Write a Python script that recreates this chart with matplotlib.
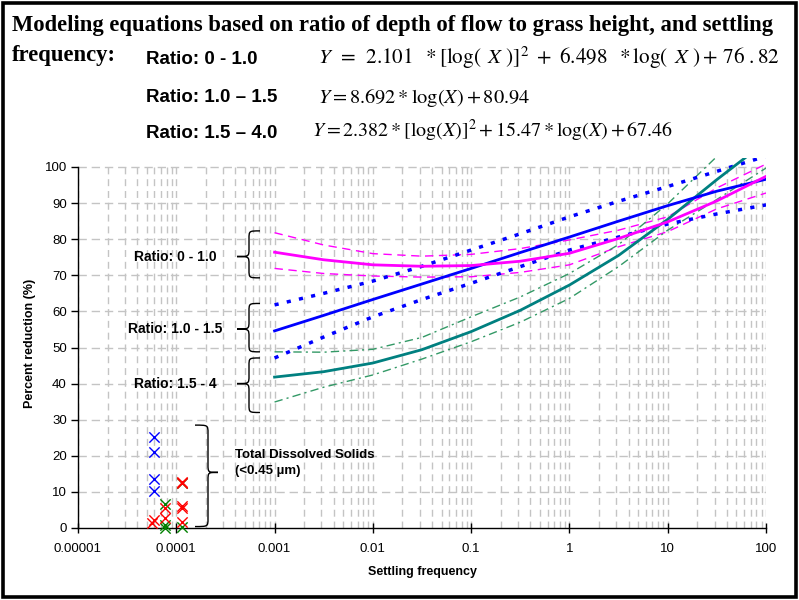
import numpy as np
import matplotlib
matplotlib.use("Agg")
import matplotlib.pyplot as plt
from matplotlib.path import Path
from matplotlib.patches import PathPatch, Rectangle
import matplotlib.transforms as mtransforms
from matplotlib.ticker import FixedLocator, FixedFormatter, NullFormatter

plt.rcParams['font.family'] = ['Liberation Sans', 'DejaVu Sans']
plt.rcParams['mathtext.fontset'] = 'stix'

# ---------------- data ----------------
freq = [0.001, 0.00316, 0.01, 0.0316, 0.1, 0.316, 1, 3.16, 10, 31.6, 100]

r1_fit   = [76.4, 74.3, 72.9, 72.5, 72.7, 73.9, 76.1, 80.2, 84.8, 90.6, 97.4]
r1_upper = [81.8, 78.4, 76.0, 75.3, 75.8, 77.4, 79.8, 82.5, 86.2, 94.2, 100.8]
r1_lower = [71.9, 70.5, 69.8, 69.5, 69.6, 70.8, 72.9, 77.9, 82.1, 88.4, 92.8]

r2_fit   = [54.6, 58.9, 63.3, 67.6, 71.9, 76.3, 80.6, 85.0, 89.3, 93.3, 96.6]
r2_upper = [61.8, 65.0, 68.4, 72.5, 77.0, 81.5, 86.2, 90.5, 94.6, 98.8, 103.0]
r2_lower = [47.1, 52.9, 58.5, 63.3, 67.8, 72.4, 77.0, 80.6, 84.2, 87.0, 89.5]

r3_fit   = [41.8, 43.3, 45.7, 49.4, 54.4, 60.3, 67.3, 75.5, 85.5, 96.5, 107.0]
r3_upper = [48.8, 48.7, 49.5, 52.8, 58.5, 64.0, 70.5, 78.5, 89.8, 102.9, 113.0]
r3_lower = [34.9, 39.0, 42.4, 46.8, 51.6, 57.0, 63.6, 72.4, 82.5, 91.0, 99.7]

tds_blue_x = [5.9e-5, 5.9e-5, 5.9e-5, 5.9e-5]
tds_blue_y = [25.1, 21.0, 13.6, 10.3]
tds_red_x = [5.7e-5, 5.9e-5, 7.7e-5, 7.7e-5, 1.15e-4, 1.15e-4, 1.15e-4, 1.15e-4, 1.15e-4]
tds_red_y = [1.5, 2.2, 5.5, 2.7, 12.8, 12.4, 6.1, 5.5, 1.6]
tds_green_x = [7.7e-5, 7.7e-5, 7.7e-5, 1.15e-4, 1.15e-4]
tds_green_y = [6.6, 0.8, 0.0, 12.6, 0.3]

xtick_vals = [1e-5, 1e-4, 1e-3, 1e-2, 1e-1, 1, 10, 100]
xtick_labels = ['0.00001', '0.0001', '0.001', '0.01', '0.1', '1', '10', '100']
ytick_vals = [0, 10, 20, 30, 40, 50, 60, 70, 80, 90, 100]

# ---------------- figure ----------------
fig = plt.figure(figsize=(7.99, 6.0), dpi=100)
fig.patch.set_facecolor('white')
fig.add_artist(Rectangle((0.004, 0.005), 0.992, 0.99, transform=fig.transFigure,
                         fill=False, edgecolor='black', linewidth=2.6))

W, H = 799.0, 600.0
x0, x1 = 78, 766
ytop = 158  # plot-area top (pixel) ; 100 at 167
ax = fig.add_axes([x0 / W, 1 - 528 / H, (x1 - x0) / W, (528 - ytop) / H])
ax.set_xscale('log')
ax.set_xlim(1e-5, 100)
ax.set_ylim(0, 100 * (528 - ytop) / (528 - 167))

grid_col = '#c4c4c4'
# horizontal major gridlines
for yv in ytick_vals[1:]:
    ax.axhline(yv, color=grid_col, lw=1.0, dashes=(6, 3.5), zorder=0)
# vertical gridlines (major and minor)
vx = []
for d in range(-5, 2):
    for m in range(1, 10):
        vx.append(m * 10.0 ** d)
vx.append(100)
for xv in vx:
    ax.plot([xv, xv], [0, 100], color=grid_col, lw=1.0, dashes=(5, 3.5), zorder=0)

for s in ['top', 'right']:
    ax.spines[s].set_visible(False)
ax.spines['left'].set_bounds(0, 100)
ax.spines['left'].set_linewidth(1.0)
ax.spines['bottom'].set_linewidth(1.0)

ax.xaxis.set_major_locator(FixedLocator(xtick_vals))
ax.xaxis.set_major_formatter(FixedFormatter(xtick_labels))
ax.xaxis.set_minor_formatter(NullFormatter())
ax.tick_params(axis='x', which='major', direction='inout', length=7, width=1, labelsize=9.5, pad=7)
ax.tick_params(axis='x', which='minor', length=0)
ax.set_yticks(ytick_vals)
ax.tick_params(axis='y', which='major', direction='out', length=5, width=1, labelsize=9.5, pad=3)

ax.set_xlabel('Settling frequency', fontsize=9, fontweight='bold', labelpad=8)
ax.set_ylabel('Percent reduction (%)', fontsize=9, fontweight='bold', labelpad=6)

# curves
ax.plot(freq, r1_upper, color='#ff00ff', lw=1.0, dashes=(6, 4))
ax.plot(freq, r1_lower, color='#ff00ff', lw=1.0, dashes=(6, 4))
ax.plot(freq, r3_upper, color='#339966', lw=1.0, dashes=(6, 3, 1.5, 3))
ax.plot(freq, r3_lower, color='#339966', lw=1.0, dashes=(6, 3, 1.5, 3))
ax.plot(freq, r2_upper, color='#0000ff', lw=2.5, dashes=(1.2, 2.4))
ax.plot(freq, r2_lower, color='#0000ff', lw=2.5, dashes=(1.2, 2.4))
ax.plot(freq, r3_fit, color='#008080', lw=2.0)
ax.plot(freq, r2_fit, color='#0000ff', lw=2.0)
ax.plot(freq, r1_fit, color='#ff00ff', lw=2.0)

# TDS scatter
ax.scatter(tds_blue_x, tds_blue_y, marker='x', s=55, color='#0000ff', linewidths=1.0, zorder=5, clip_on=False)
ax.scatter(tds_green_x, tds_green_y, marker='x', s=55, color='#008000', linewidths=1.0, zorder=5, clip_on=False)
ax.scatter(tds_red_x, tds_red_y, marker='x', s=55, color='#ff0000', linewidths=1.0, zorder=6, clip_on=False)

# braces
bt = mtransforms.blended_transform_factory(ax.transAxes, ax.transData)

def px2ax(px):
    return (px - x0) / (x1 - x0)

def brace(xs, xtip, xhook, y0, y1, ym, r=2.2):
    xs, xtip, xhook = px2ax(xs), px2ax(xtip), px2ax(xhook)
    verts = [(xhook, y1), (xs, y1), (xs, y1), (xs, y1 - r),
             (xs, ym + r), (xs, ym), (xs, ym), (xtip, ym),
             (xs, ym), (xs, ym), (xs, ym - r),
             (xs, y0 + r), (xs, y0), (xs, y0), (xhook, y0)]
    codes = [Path.MOVETO, Path.CURVE4, Path.CURVE4, Path.CURVE4,
             Path.LINETO, Path.CURVE4, Path.CURVE4, Path.CURVE4,
             Path.CURVE4, Path.CURVE4, Path.CURVE4,
             Path.LINETO, Path.CURVE4, Path.CURVE4, Path.CURVE4]
    ax.add_patch(PathPatch(Path(verts, codes), transform=bt, fill=False,
                           edgecolor='black', lw=1.0, clip_on=False))

brace(249, 237, 260, 69.3, 82.3, 75.2)
brace(249, 237, 260, 48.8, 62.2, 55.1)
brace(249, 237, 260, 32.0, 47.1, 40.0)
brace(208, 218, 195, 0.4, 28.5, 15.4)

ax.text(px2ax(175), 75.2, 'Ratio: 0 - 1.0', transform=bt, ha='center', va='center', fontsize=10, fontweight='bold')
ax.text(px2ax(175), 55.1, 'Ratio: 1.0 - 1.5', transform=bt, ha='center', va='center', fontsize=10, fontweight='bold')
ax.text(px2ax(175), 40.0, 'Ratio: 1.5 - 4', transform=bt, ha='center', va='center', fontsize=10, fontweight='bold')
ax.text(px2ax(235), 18.0, 'Total Dissolved Solids\n(<0.45 µm)', transform=bt, ha='left', va='center',
        fontsize=9.5, fontweight='bold', linespacing=1.5)

# header texts
def fy(py):
    return 1 - py / H

fig.text(12 / W, fy(25), 'Modeling equations based on ratio of depth of flow to grass height, and settling',
         family='Liberation Serif', fontweight='bold', fontsize=16.3, va='center', ha='left')
fig.text(12 / W, fy(55), 'frequency:', family='Liberation Serif', fontweight='bold', fontsize=16.3,
         va='center', ha='left')
for py, lab in [(60, 'Ratio: 0 - 1.0'), (98, 'Ratio: 1.0 \u2013 1.5'), (133, 'Ratio: 1.5 \u2013 4.0')]:
    fig.text(146 / W, fy(py), lab, fontweight='bold', fontsize=13.5, va='center', ha='left')

eq1 = r'$Y\ \,=\ \,2.101\ \;*[\log(\ \,X\ )]^2\ +\ 6.498\ \;*\log(\ \,X\ )+\,76\ .82$'
eq2 = r'$Y = 8.692*\log(X) + 80.94$'
eq3 = r'$Y = 2.382*[\log(X)]^2 + 15.47*\log(X) + 67.46$'
fig.text(318 / W, fy(58), eq1, fontsize=15.2, va='center', ha='left')
fig.text(318 / W, fy(98), eq2, fontsize=14.7, va='center', ha='left')
fig.text(312 / W, fy(131), eq3, fontsize=14.4, va='center', ha='left')

fig.savefig('out.png', dpi=100, facecolor='white')
